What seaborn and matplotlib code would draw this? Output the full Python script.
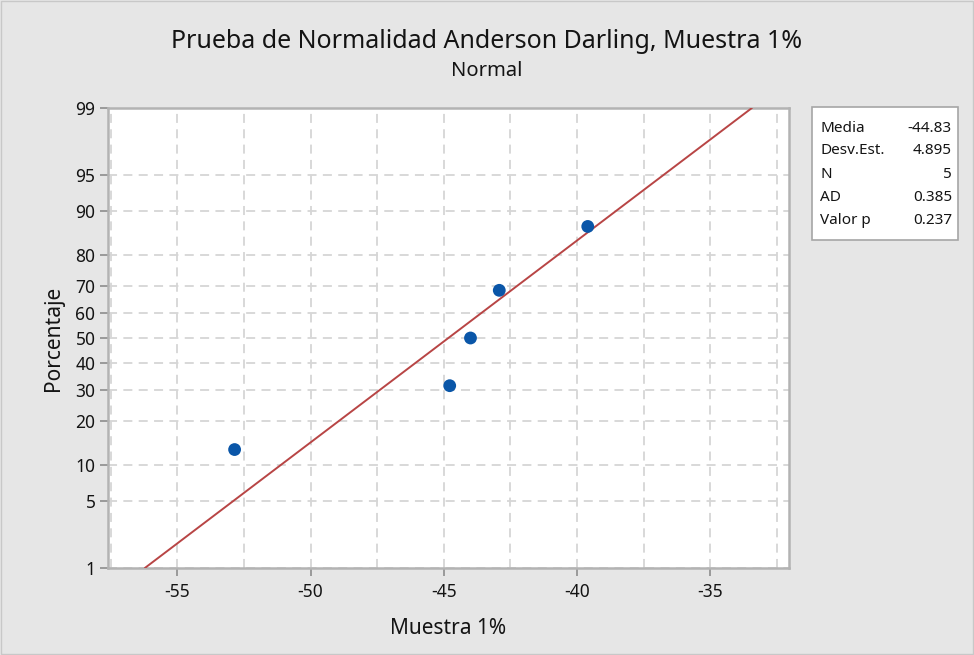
import numpy as np
import pandas as pd
import matplotlib
matplotlib.use("Agg")
import matplotlib.pyplot as plt
from matplotlib.ticker import FixedLocator, MultipleLocator
import seaborn as sns
from statistics import NormalDist

# Sample values and their plotting positions (percent)
muestra = [-52.85, -44.78, -44.00, -42.92, -39.60]
porcentaje = [12.96, 31.48, 50.00, 68.52, 87.04]

# Summary statistics shown in the side table
stat_names = ["Media", "Desv.Est.", "N", "AD", "Valor p"]
stat_values = ["-44.83", "4.895", "5", "0.385", "0.237"]
media = -44.83
desv_est = 4.895

# Fitted line spans the probability axis range
fit_pct = [1, 99]

y_ticks = [1, 5, 10, 20, 30, 40, 50, 60, 70, 80, 90, 95, 99]
x_ticks = [-55, -50, -45, -40, -35]

_nd = NormalDist()
_ppf = np.vectorize(lambda p: _nd.inv_cdf(p), otypes=[float])
_cdf = np.vectorize(lambda z: _nd.cdf(z), otypes=[float])


def prob_forward(p):
    p = np.clip(np.asarray(p, dtype=float) / 100.0, 1e-9, 1 - 1e-9)
    return _ppf(p)


def prob_inverse(z):
    return _cdf(np.asarray(z, dtype=float)) * 100.0


sns.set_theme(style="white")
plt.rcParams["font.family"] = ["Noto Sans", "DejaVu Sans"]

bg = "#e6e6e6"
txt = "#141414"
fig = plt.figure(figsize=(9.74, 6.55), dpi=100, facecolor=bg)
ax = fig.add_axes([108 / 974, 1 - 568 / 655, (789 - 108) / 974, (568 - 108) / 655])
ax.set_facecolor("white")

ax.set_yscale("function", functions=(prob_forward, prob_inverse))

pts = pd.DataFrame({"Muestra": muestra, "Porcentaje": porcentaje})
fit = pd.DataFrame({
    "Muestra": [media + desv_est * _nd.inv_cdf(p / 100.0) for p in fit_pct],
    "Porcentaje": fit_pct,
})

sns.lineplot(data=fit, x="Muestra", y="Porcentaje", ax=ax, color="#b84545",
             linewidth=1.4, zorder=3)
sns.scatterplot(data=pts, x="Muestra", y="Porcentaje", ax=ax, color="#0a56a8",
                s=85, edgecolor="none", zorder=4)

ax.set_xlim(-57.6, -32.05)
ax.set_ylim(1, 99)

ax.xaxis.set_major_locator(FixedLocator(x_ticks))
ax.xaxis.set_minor_locator(MultipleLocator(2.5))
ax.yaxis.set_major_locator(FixedLocator(y_ticks))
ax.yaxis.set_minor_locator(FixedLocator([]))
ax.set_yticklabels([str(t) for t in y_ticks])
ax.set_xticklabels([str(t) for t in x_ticks])

grid_kw = dict(color="#d6d6d6", linestyle=(0, (5, 3.5)), linewidth=1.3)
ax.grid(True, which="major", axis="y", **grid_kw)
ax.grid(True, which="both", axis="x", **grid_kw)
ax.set_axisbelow(True)

ax.tick_params(axis="both", which="major", direction="out", length=6, width=1.2,
               color="#8c8c8c", labelsize=12.5, labelcolor=txt, pad=3,
               left=True, bottom=True)
ax.tick_params(axis="x", which="major", pad=5)
ax.tick_params(axis="x", which="minor", length=0)

for sp in ax.spines.values():
    sp.set_color("#b3b3b3")
    sp.set_linewidth(1.8)

ax.set_xlabel("Muestra 1%", fontsize=15, color=txt, labelpad=12)
ax.set_ylabel("Porcentaje", fontsize=15, color=txt, labelpad=8)

fig.text(0.5, 1 - 42 / 655, "Prueba de Normalidad Anderson Darling, Muestra 1%",
         ha="center", va="center", fontsize=18, color=txt)
fig.text(0.5, 1 - 71 / 655, "Normal", ha="center", va="center", fontsize=14.5,
         color=txt)

# Statistics table box
box = plt.Rectangle((812 / 974, 1 - 240 / 655), (958 - 812) / 974, (240 - 107) / 655,
                    transform=fig.transFigure, facecolor="white", edgecolor="#a6a6a6",
                    linewidth=1.2)
fig.add_artist(box)
for i, (name, val) in enumerate(zip(stat_names, stat_values)):
    yy = 1 - (128 + 23 * i) / 655
    fig.text(820 / 974, yy, name, ha="left", va="center", fontsize=11, color=txt)
    fig.text(952 / 974, yy, val, ha="right", va="center", fontsize=11, color=txt)

# Outer frame
frame = plt.Rectangle((0.001, 0.001), 0.998, 0.998, transform=fig.transFigure,
                      facecolor="none", edgecolor="#c8c8c8", linewidth=1.0)
fig.add_artist(frame)

fig.savefig("out.png", dpi=100, facecolor=bg)
